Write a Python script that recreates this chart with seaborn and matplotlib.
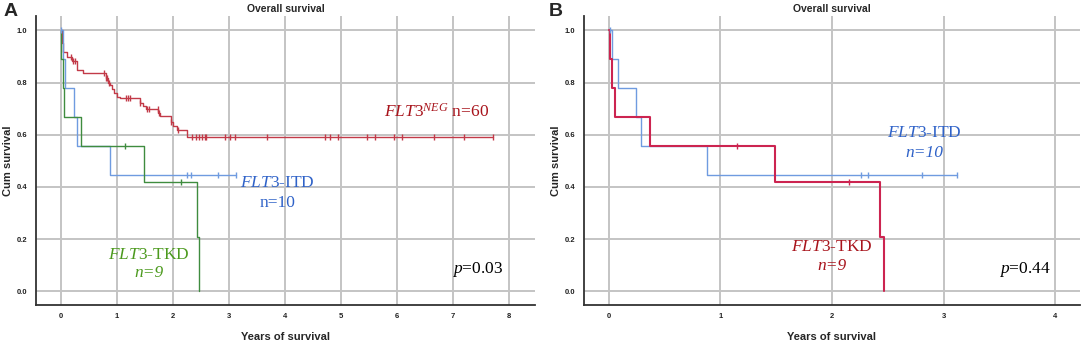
import numpy as np
import pandas as pd
import matplotlib
matplotlib.use('Agg')
import matplotlib.pyplot as plt
import seaborn as sns

# Kaplan-Meier step data (years, cumulative survival)
neg_times = [0, 0.02, 0.04, 0.11, 0.2, 0.29, 0.30, 0.39, 0.80, 0.84, 0.88, 0.92, 0.96,
             1.00, 1.06, 1.42, 1.47, 1.53, 1.74, 1.78, 1.97, 2.00, 2.07, 2.25]
neg_surv = [1.0, 0.95, 0.917, 0.90, 0.883, 0.867, 0.85, 0.835, 0.817, 0.80, 0.79, 0.776,
            0.76, 0.745, 0.74, 0.72, 0.71, 0.70, 0.685, 0.67, 0.65, 0.633, 0.617, 0.59]
neg_censor = [0.185, 0.216, 0.247, 0.77, 0.80, 0.83, 0.86, 1.17, 1.20, 1.23, 1.42, 1.54,
              1.57, 1.73, 1.76, 1.97, 2.10, 2.34, 2.41, 2.47, 2.53, 2.57, 2.59, 2.93,
              3.02, 3.11, 3.68, 4.72, 4.81, 4.94, 5.46, 5.61, 5.95, 6.08, 6.66, 7.19, 7.71]

itd_times = [0, 0.033, 0.083, 0.242, 0.293, 0.88]
itd_surv = [1.0, 0.889, 0.778, 0.667, 0.556, 0.444]
itd_censor = [0.01, 2.26, 2.32, 2.81, 3.12]

tkd_times = [0, 0.015, 0.033, 0.057, 0.367, 1.49, 2.43, 2.47]
tkd_surv = [1.0, 0.889, 0.778, 0.667, 0.556, 0.417, 0.208, 0.0]
tkd_censor = [1.15, 2.15]

C_RED_A = '#c23a48'
C_BLUE = '#6f9be0'
C_GREEN = '#3f8c3f'
C_RED_B = '#cc2450'
T_RED = '#a8141c'
T_BLUE = '#2f62c8'
T_GREEN = '#4c9a1e'

sns.set_theme(style='white')
plt.rcParams['font.family'] = ['Liberation Sans', 'DejaVu Sans']
plt.rcParams['mathtext.fontset'] = 'custom'
plt.rcParams['mathtext.it'] = 'Liberation Serif:italic'
plt.rcParams['mathtext.rm'] = 'Liberation Serif'


def km_frame(times, surv, censor):
    t = list(times)
    s = list(surv)
    end = max(censor)
    if end > t[-1]:
        t.append(end)
        s.append(s[-1])
    return pd.DataFrame({'t': t, 's': s})


def censor_frame(times, surv, censor):
    idx = np.searchsorted(times, censor, side='right') - 1
    return pd.DataFrame({'t': censor, 's': np.asarray(surv)[idx]})


def draw(ax, times, surv, censor, color, lw):
    sns.lineplot(data=km_frame(times, surv, censor), x='t', y='s', ax=ax, color=color,
                 drawstyle='steps-post', estimator=None, linewidth=lw, zorder=3)
    sns.scatterplot(data=censor_frame(times, surv, censor), x='t', y='s', ax=ax,
                    marker='|', s=25, color=color, linewidth=1.0, zorder=4)


def style(ax, xmax, xlim):
    ax.set_xlim(*xlim)
    ax.set_ylim(-0.053, 1.055)
    ax.set_xticks(range(0, xmax + 1))
    ax.set_yticks([0, 0.2, 0.4, 0.6, 0.8, 1.0])
    ax.set_yticklabels(['0.0', '0.2', '0.4', '0.6', '0.8', '1.0'])
    ax.grid(True, color='#c4c4c4', linewidth=1.4)
    ax.set_axisbelow(True)
    for s in ['top', 'right']:
        ax.spines[s].set_visible(False)
    for s in ['left', 'bottom']:
        ax.spines[s].set_color('#333333')
        ax.spines[s].set_linewidth(1.3)
    ax.tick_params(labelsize=5.5, length=0, pad=6)
    for lab in ax.get_xticklabels() + ax.get_yticklabels():
        lab.set_fontweight('bold')
        lab.set_color('#222222')
    ax.set_xlabel('Years of survival', fontsize=8, fontweight='bold', labelpad=8)
    ax.set_ylabel('Cum survival', fontsize=8, fontweight='bold', labelpad=3)
    ax.set_title('Overall survival', fontsize=7.5, fontweight='bold', pad=3)


fig = plt.figure(figsize=(10.84, 3.42), dpi=100)
axA = fig.add_axes([0.0332, 0.108, 0.4603, 0.845])
axB = fig.add_axes([0.5387, 0.108, 0.4576, 0.845])

draw(axA, neg_times, neg_surv, neg_censor, C_RED_A, 1.0)
draw(axA, itd_times, itd_surv, itd_censor, C_BLUE, 1.0)
draw(axA, tkd_times, tkd_surv, tkd_censor, C_GREEN, 1.0)
style(axA, 8, (-0.44, 8.46))

draw(axB, itd_times, itd_surv, itd_censor, C_BLUE, 1.0)
draw(axB, tkd_times, tkd_surv, tkd_censor, C_RED_B, 1.5)
style(axB, 4, (-0.22, 4.22))

fs = 12.5
serif = 'Liberation Serif'
# panel A annotations
axA.text(7.65, 0.69, r'$\mathit{FLT3}^{NEG}$ n=60', color=T_RED, fontsize=fs,
         family=serif, ha='right', va='center')
axA.text(3.87, 0.415, r'$\mathit{FLT3}$-ITD', color=T_BLUE, fontsize=fs,
         family=serif, ha='center', va='center')
axA.text(3.87, 0.34, 'n=10', color=T_BLUE, fontsize=fs,
         family=serif, ha='center', va='center')
axA.text(1.58, 0.14, r'$\mathit{FLT3}$-TKD', color=T_GREEN, fontsize=fs,
         family=serif, ha='center', va='center')
axA.text(1.58, 0.07, 'n=9', color=T_GREEN, fontsize=fs,
         family=serif, ha='center', va='center', style='italic')
axA.text(7.9, 0.085, r'$p$=0.03', color='black', fontsize=fs,
         family=serif, ha='right', va='center')

# panel B annotations
axB.text(2.83, 0.605, r'$\mathit{FLT3}$-ITD', color=T_BLUE, fontsize=fs,
         family=serif, ha='center', va='center')
axB.text(2.83, 0.53, 'n=10', color=T_BLUE, fontsize=fs,
         family=serif, ha='center', va='center', style='italic')
axB.text(2.0, 0.17, r'$\mathit{FLT3}$-TKD', color=T_RED, fontsize=fs,
         family=serif, ha='center', va='center')
axB.text(2.0, 0.095, 'n=9', color=T_RED, fontsize=fs,
         family=serif, ha='center', va='center', style='italic')
axB.text(3.96, 0.085, r'$p$=0.44', color='black', fontsize=fs,
         family=serif, ha='right', va='center')

fig.text(0.003, 0.99, 'A', fontsize=14, fontweight='bold', va='top', ha='left')
fig.text(0.506, 0.99, 'B', fontsize=14, fontweight='bold', va='top', ha='left')

fig.savefig('out.png', dpi=100)
